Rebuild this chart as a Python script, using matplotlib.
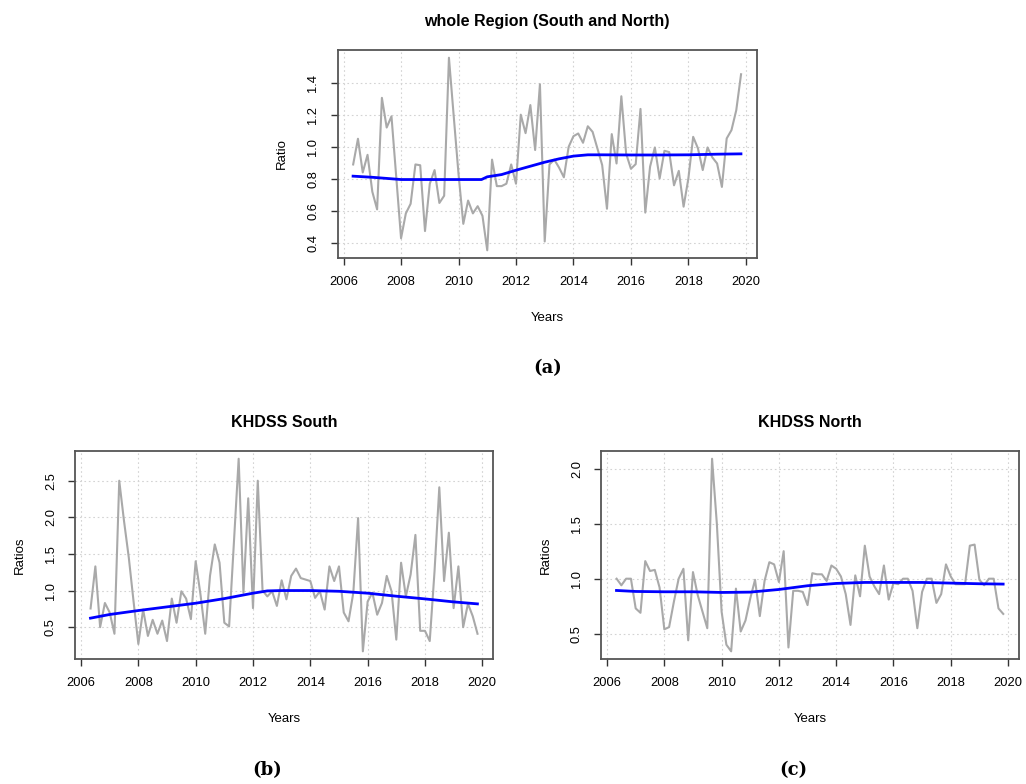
import numpy as np
import matplotlib
matplotlib.use('Agg')
import matplotlib.pyplot as plt

plt.rcParams['font.family'] = ['Liberation Sans', 'DejaVu Sans']

# bimonthly observations, May 2006 .. Nov 2019
years = 2006 + np.arange(2, 84) / 6

whole_ratio = [
    0.89, 1.05, 0.84, 0.95,
    0.72, 0.61, 1.305, 1.12, 1.19, 0.81,
    0.43, 0.585, 0.645, 0.89, 0.885, 0.475,
    0.77, 0.855, 0.65, 0.695, 1.555, 1.19,
    0.83, 0.52, 0.665, 0.585, 0.63, 0.57,
    0.355, 0.92, 0.755, 0.755, 0.77, 0.89,
    0.77, 1.2, 1.085, 1.26, 0.98, 1.39,
    0.41, 0.89, 0.92, 0.87, 0.81, 1.0,
    1.066, 1.083, 1.025, 1.128, 1.093, 0.99,
    0.886, 0.614, 1.079, 0.896, 1.315, 0.958,
    0.863, 0.892, 1.236, 0.59, 0.876, 0.996,
    0.803, 0.975, 0.967, 0.76, 0.85, 0.627,
    0.803, 1.062, 0.99, 0.855, 0.996, 0.934,
    0.896, 0.75, 1.052, 1.104, 1.228, 1.452,
]

south_ratio = [
    0.755, 1.33, 0.5, 0.83,
    0.7, 0.41, 2.5, 1.95, 1.45, 0.85,
    0.27, 0.74, 0.38, 0.6, 0.41, 0.59,
    0.31, 0.89, 0.56, 0.99, 0.89, 0.61,
    1.4, 0.95, 0.41, 1.2, 1.63, 1.38,
    0.56, 0.51, 1.65, 2.8, 0.97, 2.26,
    0.76, 2.5, 1.0, 0.92, 0.99, 0.79,
    1.14, 0.88, 1.2, 1.3, 1.17, 1.15,
    1.13, 0.9, 0.99, 0.74, 1.33, 1.13,
    1.33, 0.7, 0.58, 0.97, 1.99, 0.17,
    0.85, 0.97, 0.67, 0.83, 1.2, 0.99,
    0.33, 1.38, 0.92, 1.22, 1.76, 0.45,
    0.45, 0.31, 1.26, 2.41, 1.13, 1.79,
    0.76, 1.33, 0.5, 0.82, 0.65, 0.41,
]

north_ratio = [
    1.0, 0.94, 1.0, 1.0,
    0.73, 0.69, 1.16, 1.07, 1.08, 0.92,
    0.54, 0.56, 0.79, 1.0, 1.09, 0.44,
    1.06, 0.85, 0.7, 0.55, 2.09, 1.5,
    0.7, 0.4, 0.34, 0.91, 0.52, 0.62,
    0.82, 0.99, 0.66, 0.98, 1.15, 1.13,
    0.97, 1.25, 0.375, 0.89, 0.89, 0.88,
    0.76, 1.05, 1.04, 1.04, 0.98, 1.12,
    1.09, 1.02, 0.86, 0.58, 1.03, 0.84,
    1.3, 1.02, 0.93, 0.86, 1.12, 0.81,
    0.96, 0.95, 1.0, 1.0, 0.89, 0.55,
    0.88, 1.0, 1.0, 0.78, 0.86, 1.13,
    1.02, 0.95, 0.95, 0.95, 1.3, 1.31,
    0.99, 0.94, 1.0, 1.0, 0.73, 0.68,
]

whole_trend_years = [2006.33, 2007, 2008, 2009, 2010, 2010.8, 2011, 2011.5, 2012,
                     2012.5, 2013, 2013.5, 2014, 2014.5, 2015, 2016, 2017, 2018,
                     2019, 2019.83]
whole_trend = [0.817, 0.81, 0.796, 0.796, 0.796, 0.796, 0.813, 0.827, 0.854,
               0.879, 0.904, 0.925, 0.942, 0.95, 0.95, 0.949, 0.949, 0.95,
               0.954, 0.956]

south_trend_years = [2006.33, 2007, 2008, 2009, 2010, 2011, 2012, 2012.5, 2013,
                     2014, 2015, 2016, 2017, 2018, 2019, 2019.83]
south_trend = [0.623, 0.673, 0.727, 0.777, 0.827, 0.89, 0.964, 0.995, 1.0,
               1.0, 0.99, 0.964, 0.923, 0.886, 0.845, 0.818]

north_trend_years = [2006.33, 2007, 2008, 2009, 2010, 2011, 2012, 2013, 2014,
                     2015, 2016, 2017, 2018, 2019, 2019.83]
north_trend = [0.893, 0.884, 0.881, 0.881, 0.875, 0.878, 0.902, 0.936, 0.957,
               0.966, 0.966, 0.966, 0.96, 0.954, 0.951]

year_ticks = [2006, 2008, 2010, 2012, 2014, 2016, 2018, 2020]


def draw_panel(ax, ratio, trend_years, trend, yticks, title, ylabel):
    ax.plot(years, ratio, color='#a9a9a9', lw=1.5, zorder=2)
    ax.plot(trend_years, trend, color='#0000ff', lw=2.0, zorder=3)
    ax.margins(x=0.04, y=0.04)
    ax.set_xticks(year_ticks)
    ax.set_yticks(yticks)
    ax.set_yticklabels(['%.1f' % v for v in yticks], rotation=90, va='center')
    ax.grid(True, color='#d3d3d3', linestyle=(0, (1.5, 2.5)), lw=0.8, zorder=0)
    ax.tick_params(direction='out', length=5, width=1, color='#333333',
                   labelsize=9.3, pad=8)
    for s in ax.spines.values():
        s.set_color('#555555')
        s.set_linewidth(1.3)
    ax.set_title(title, fontsize=11.5, fontweight='bold', pad=17)
    ax.set_xlabel('Years', fontsize=9.5, labelpad=17)
    ax.set_ylabel(ylabel, fontsize=9.5, labelpad=14)


fig = plt.figure(figsize=(10.26, 7.84), dpi=100)

ax_a = fig.add_axes([0.329, 0.6709, 0.4084, 0.2653])
ax_b = fig.add_axes([0.0731, 0.1594, 0.4074, 0.2653])
ax_c = fig.add_axes([0.5858, 0.1594, 0.4071, 0.2653])

draw_panel(ax_a, whole_ratio, whole_trend_years, whole_trend,
           [0.4, 0.6, 0.8, 1.0, 1.2, 1.4], 'whole Region (South and North)', 'Ratio')
draw_panel(ax_b, south_ratio, south_trend_years, south_trend,
           [0.5, 1.0, 1.5, 2.0, 2.5], 'KHDSS South', 'Ratios')
draw_panel(ax_c, north_ratio, north_trend_years, north_trend,
           [0.5, 1.0, 1.5, 2.0], 'KHDSS North', 'Ratios')

# sub-figure captions
cap = dict(fontsize=13, fontweight='bold', family=['DejaVu Serif'], ha='center', va='center')
fig.text(0.534, 0.531, '(a)', **cap)
fig.text(0.260, 0.018, '(b)', **cap)
fig.text(0.773, 0.018, '(c)', **cap)

fig.savefig('out.png', dpi=100)
